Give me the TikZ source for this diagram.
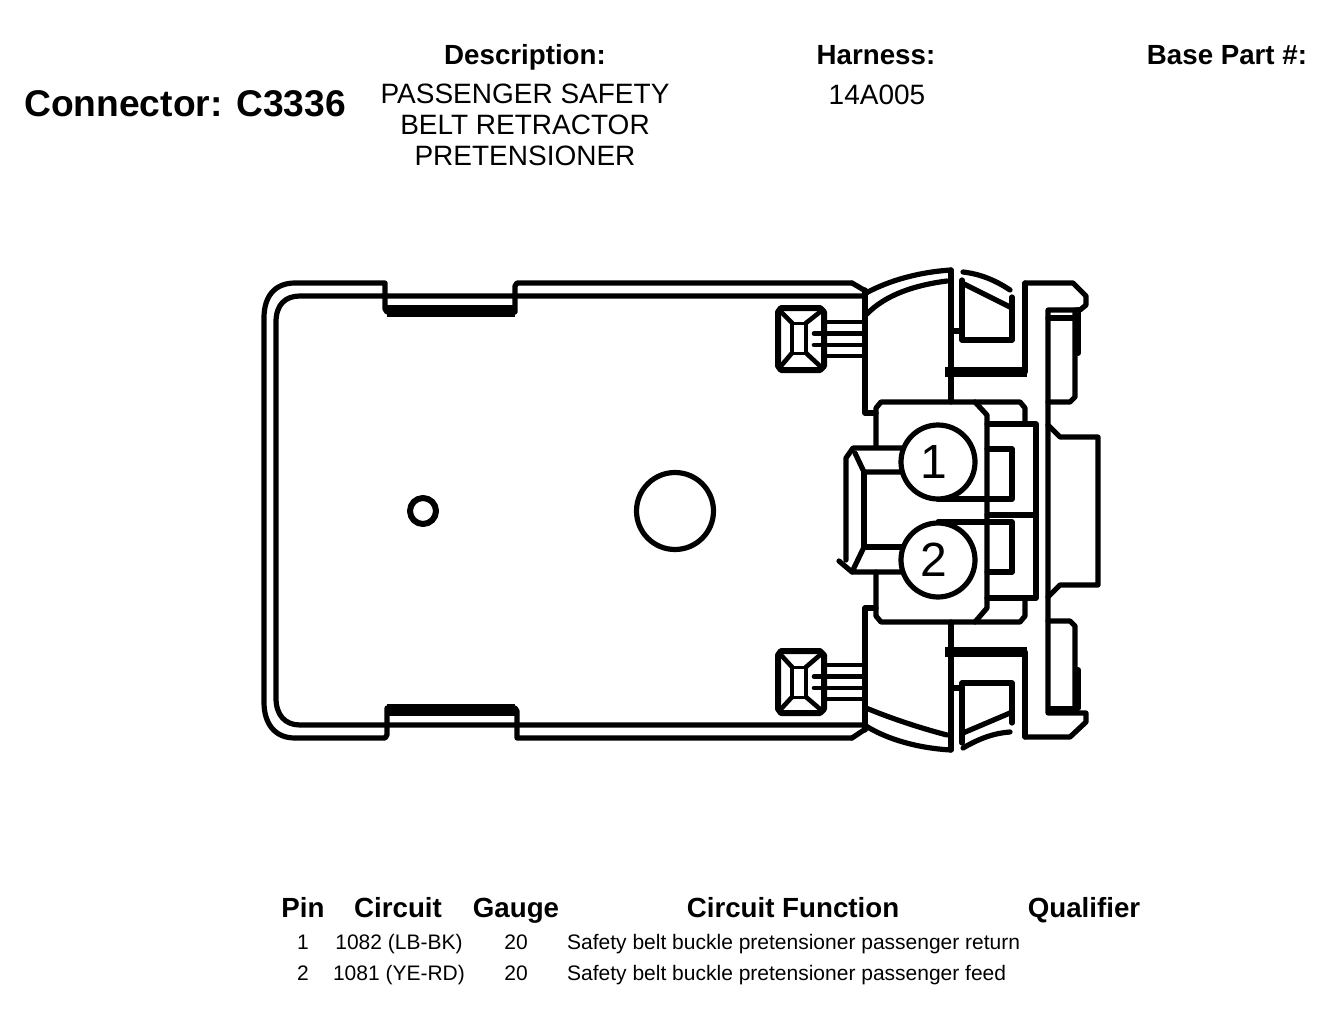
\documentclass[tikz,border=0pt]{standalone}
\usepackage{fontspec}
\setmainfont{Liberation Sans}
\tikzset{
 ln/.style={draw=black,line width=5.2pt,line join=round,line cap=round},
 thin line/.style={draw=black,line width=4.6pt,line join=round,line cap=round},
 thick bar/.style={draw=black,line width=12pt,line cap=butt},
 hd/.style={font=\bfseries\fontsize{27.7}{27.7}\selectfont,inner sep=0pt,anchor=base},
 big/.style={font=\bfseries\fontsize{37.2}{37.2}\selectfont,inner sep=0pt,anchor=base west},
 tx/.style={font=\fontsize{28}{31}\selectfont,inner sep=0pt,anchor=base},
 rw/.style={font=\fontsize{21}{21}\selectfont,inner sep=0pt,anchor=base},
 pin/.style={circle,draw=black,line width=5.2pt,fill=white,minimum size=74pt,inner sep=0pt,font=\fontsize{48}{48}\selectfont},
}
\begin{document}
\begin{tikzpicture}[x=1pt,y=-1pt]
\useasboundingbox (0,0) rectangle (1344,1014);
\fill[white] (0,0) rectangle (1344,1014);
% texts
\node[big] (conn) at (24,117) {Connector: C3336};
\node[hd] (hdesc) at (525,65) {Description:};
\node[hd] (hharn) at (876,65) {Harness:};
\node[hd] (hbase) at (1227,65) {Base Part \#:};
\node[tx] (d1) at (525,104) {PASSENGER SAFETY};
\node[tx] (d2) at (525,135) {BELT RETRACTOR};
\node[tx] (d3) at (525,165) {PRETENSIONER};
\node[tx] (harn) at (877,105) {14A005};
\node[hd] (tpin) at (303,917) {Pin};
\node[hd] (tcir) at (398,917) {Circuit};
\node[hd] (tgau) at (516,917) {Gauge};
\node[hd] (tfun) at (793,917) {Circuit Function};
\node[hd] (tqua) at (1084,917) {Qualifier};
\node[rw] (r1a) at (303,949) {1};
\node[rw] (r1b) at (399,949) {1082 (LB-BK)};
\node[rw] (r1c) at (516,949) {20};
\node[rw,anchor=base west] (r1d) at (567,949) {Safety belt buckle pretensioner passenger return};
\node[rw] (r2a) at (303,980) {2};
\node[rw] (r2b) at (399,980) {1081 (YE-RD)};
\node[rw] (r2c) at (516,980) {20};
\node[rw,anchor=base west] (r2d) at (567,980) {Safety belt buckle pretensioner passenger feed};
% body outer
\draw[ln] (852,283) -- (517,283) -- (515,286) -- (515,312) -- (387,312) -- (385,309) -- (385,283) -- (295,283)
  .. controls (275,283) and (264,296) .. (264,318) -- (264,702)
  .. controls (264,724) and (275,738) .. (295,738) -- (385,738) -- (387,735) -- (387,708) -- (515,708) -- (517,711) -- (517,738) -- (852,738);
\draw[ln] (852,283) -- (864,290);
\draw[ln] (852,738) -- (864,730);
% body inner
\draw[ln] (864,296) -- (300,296) .. controls (285,296) and (276,305) .. (276,322) -- (276,698)
  .. controls (276,715) and (285,725) .. (300,725) -- (864,725);
\draw[thick bar] (387,311) -- (515,311);
\draw[thick bar] (387,710) -- (515,710);
% holes
\draw[ln,line width=6pt] (423,511) circle (13);
\draw[ln] (675,511) circle (38.5);
% central wall
\draw[ln] (865,290) -- (865,413) -- (876,413);
\draw[ln] (865,730) -- (865,608) -- (876,608);
% arcs
\draw[ln] (866,293) .. controls (890,280) and (920,272) .. (951,270);
\draw[ln] (867,314) .. controls (885,295) and (915,285) .. (947,281);
\draw[ln] (866,708) .. controls (890,718) and (920,728) .. (947,735);
\draw[ln] (866,726) .. controls (885,738) and (915,748) .. (951,750);
\draw[ln] (951,270) -- (951,402);
\draw[ln] (951,622) -- (951,750);
% right assembly
\draw[ln] (1025,283) -- (1073,283) -- (1086,296) -- (1086,305) -- (1080,310) -- (1048,310) -- (1048,713) -- (1086,713) -- (1086,722) -- (1070,737) -- (1025,737);
\draw[ln] (1025,283) -- (1025,372);
\draw[ln] (1025,652) -- (1025,737);
\draw[ln,line width=10pt,line cap=butt] (945,372) -- (1027,372);
\draw[ln,line width=10pt,line cap=butt] (945,652) -- (1027,652);
\draw[ln] (963,272) .. controls (980,274) and (995,280) .. (1010,290);
\draw[ln] (1012,297) -- (1012,340) -- (962,340) -- (962,280);
\draw[ln] (962,283) -- (1010,307);
\draw[ln] (951,331) -- (962,331);
\draw[ln] (963,748) .. controls (980,738) and (995,733) .. (1010,732);
\draw[ln] (1012,723) -- (1012,683) -- (962,683) -- (962,743);
\draw[ln] (963,733) -- (1010,713);
\draw[ln] (951,688) -- (962,688);
% right inner rectangles
\draw[ln] (1048,318) -- (1073,318);
\draw[ln] (1075,310) -- (1075,397) -- (1070,402) -- (1048,402);
\draw[ln,line width=6pt] (1078,310) -- (1078,353);
\draw[ln] (1048,621) -- (1070,621) -- (1075,626) -- (1075,708);
\draw[ln,line width=6pt] (1078,670) -- (1078,708);
\draw[ln,line width=7pt,line cap=butt] (1048,709) -- (1078,709);
% right bump
\draw[ln] (1048,425) -- (1060,437) -- (1098,437) -- (1098,585) -- (1060,585) -- (1048,597);
% central housing
\draw[ln] (876,447) -- (876,408) -- (881,402) -- (1020,402) -- (1025,408) -- (1025,423);
\draw[ln] (876,572) -- (876,616) -- (881,622) -- (1020,622) -- (1025,616) -- (1025,598);
\draw[ln] (975,402) -- (987,415) -- (987,608) -- (975,622);
\draw[ln] (987,424) -- (1036,424) -- (1036,598) -- (987,598);
\draw[ln] (987,515) -- (1036,515);
\draw[ln] (987,449) -- (1012,449) -- (1012,499) -- (938,499);
\draw[ln] (938,522) -- (1012,522) -- (1012,572) -- (987,572);
% left tabs
\draw[ln] (846,560) -- (846,458) -- (853,448) -- (905,448);
\draw[ln] (855,453) -- (864,472) -- (905,472);
\draw[ln] (864,472) -- (864,547) -- (905,547);
\draw[ln] (864,547) -- (852,572) -- (905,572);
\draw[ln] (839,561) -- (852,572);
% pins
\node[pin] (p1) at (938,462) {\raisebox{1pt}{\hspace{-8pt}1}};
\node[pin] (p2) at (938,560) {\hspace{-8pt}2};
% upper latch
\draw[ln,line width=6pt] (781,308) -- (820,308) -- (824,312) -- (824,366) -- (820,370) -- (781,370) -- (778,366) -- (778,312) -- cycle;
\draw[thin line] (792,323) -- (792,353);
\draw[thin line] (806,323) -- (806,353);
\draw[thin line,line width=3pt] (792,323) -- (806,323);
\draw[thin line,line width=3pt] (792,353) -- (806,353);
\draw[thin line] (781,312) -- (792,323);
\draw[thin line] (781,366) -- (792,353);
\draw[thin line] (820,312) -- (806,323);
\draw[thin line] (820,366) -- (806,353);
\draw[thin line] (825,322) -- (864,322);
\draw[thin line] (814,333.5) -- (864,333.5);
\draw[thin line] (814,345) -- (864,345);
\draw[thin line] (825,356) -- (864,356);
% lower latch
\draw[ln,line width=6pt] (781,651) -- (820,651) -- (824,655) -- (824,709) -- (820,713) -- (781,713) -- (778,709) -- (778,655) -- cycle;
\draw[thin line] (792,667) -- (792,697);
\draw[thin line] (806,667) -- (806,697);
\draw[thin line,line width=3pt] (792,667) -- (806,667);
\draw[thin line,line width=3pt] (792,697) -- (806,697);
\draw[thin line] (781,655) -- (792,667);
\draw[thin line] (781,709) -- (792,697);
\draw[thin line] (820,655) -- (806,667);
\draw[thin line] (820,709) -- (806,697);
\draw[thin line] (825,665) -- (864,665);
\draw[thin line] (814,676.5) -- (864,676.5);
\draw[thin line] (814,688) -- (864,688);
\draw[thin line] (825,699) -- (864,699);
\end{tikzpicture}
\end{document}
